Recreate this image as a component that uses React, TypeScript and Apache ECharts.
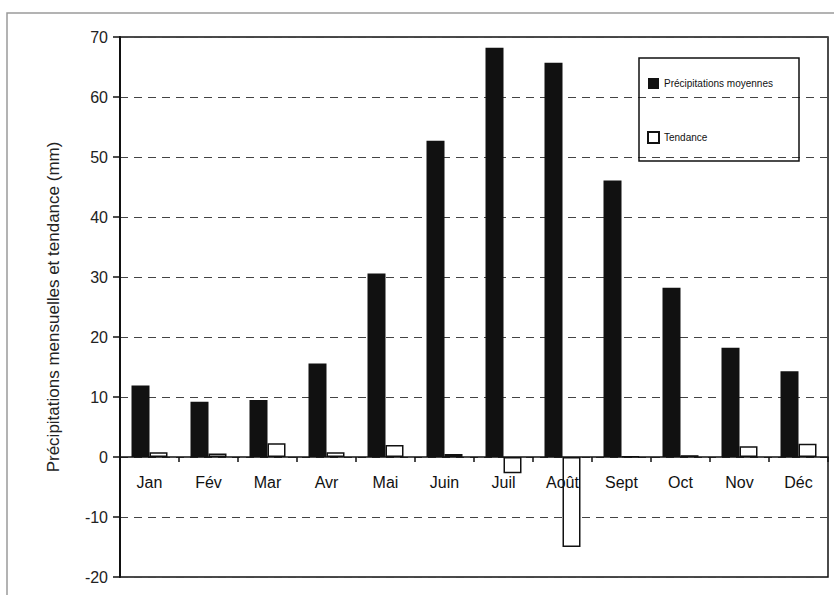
import React, { useEffect, useRef } from "react";
import * as echarts from "echarts";

const months = ["Jan", "Fév", "Mar", "Avr", "Mai", "Juin", "Juil", "Août", "Sept", "Oct", "Nov", "Déc"];
const precipitations = [11.9, 9.2, 9.5, 15.6, 30.6, 52.7, 68.2, 65.7, 46.1, 28.2, 18.2, 14.3];
const tendance = [0.8, 0.6, 2.3, 0.8, 2.0, 0.5, -2.7, -15.0, 0.1, 0.3, 1.8, 2.2];
const seriesNames = ["Précipitations moyennes", "Tendance"];
const yAxisTitle = "Précipitations mensuelles et tendance (mm)";

const FONT = "'Liberation Sans', Arial, Helvetica, sans-serif";

export default function App() {
  const ref = useRef<HTMLDivElement>(null);
  useEffect(() => {
    if (!ref.current) return;
    const chart = echarts.init(ref.current, undefined, { renderer: "svg" });
    chart.setOption({
      animation: false,
      backgroundColor: "#ffffff",
      textStyle: { fontFamily: FONT },
      grid: {
        left: 120,
        top: 37,
        right: 6,
        bottom: 18,
        outerBoundsMode: "none",
        containLabel: false,
        show: true,
        borderColor: "#111",
        borderWidth: 1.5,
        backgroundColor: "transparent",
      },
      legend: {
        orient: "vertical",
        left: 647,
        top: 78,
        padding: 0,
        itemWidth: 11,
        itemHeight: 11,
        itemGap: 42,
        icon: "rect",
        textStyle: { fontSize: 10, color: "#111", fontFamily: FONT },
        data: seriesNames,
      },
      graphic: [
        {
          type: "rect",
          shape: { x: 639, y: 58, width: 160, height: 103 },
          style: { fill: "none", stroke: "#111", lineWidth: 1.5 },
          z: 10,
        },
        {
          type: "polyline",
          shape: { points: [[7, 600], [7, 13], [840, 13]] },
          style: { fill: "none", stroke: "#9a9a9a", lineWidth: 1.5 },
        },
      ],
      xAxis: {
        type: "category",
        data: months,
        position: "bottom",
        offset: -120,
        z: 5,
        axisLine: { onZero: false, lineStyle: { color: "#111", width: 1.5 } },
        axisTick: { show: true, alignWithLabel: false, length: 5, lineStyle: { color: "#111", width: 1.5 } },
        axisLabel: { fontSize: 16, color: "#111", margin: 17, fontFamily: FONT, interval: 0 },
        splitLine: { show: false },
      },
      yAxis: {
        type: "value",
        min: -20,
        max: 70,
        interval: 10,
        name: yAxisTitle,
        nameLocation: "middle",
        nameGap: 58,
        nameTextStyle: { fontSize: 17, color: "#222", fontFamily: FONT },
        axisLine: { show: true, lineStyle: { color: "#111", width: 2 } },
        axisTick: { show: true, length: 7, lineStyle: { color: "#111", width: 1.5 } },
        axisLabel: { fontSize: 16, color: "#222", margin: 12, fontFamily: FONT },
        splitLine: { show: true, lineStyle: { color: "#444", width: 1.2, type: [8, 6] } },
      },
      series: [
        {
          name: seriesNames[0],
          type: "bar",
          data: precipitations,
          barWidth: 18,
          barGap: "0%",
          z: 2,
          itemStyle: { color: "#111" },
        },
        {
          name: seriesNames[1],
          type: "bar",
          data: tendance,
          barWidth: 18,
          z: 2,
          itemStyle: { color: "#ffffff", borderColor: "#111", borderWidth: 1.5 },
        },
      ],
    });
    return () => chart.dispose();
  }, []);
  return (
    <div
      ref={ref}
      style={{ position: "fixed", left: 0, top: 0, width: 834, height: 595 }}
    />
  );
}
